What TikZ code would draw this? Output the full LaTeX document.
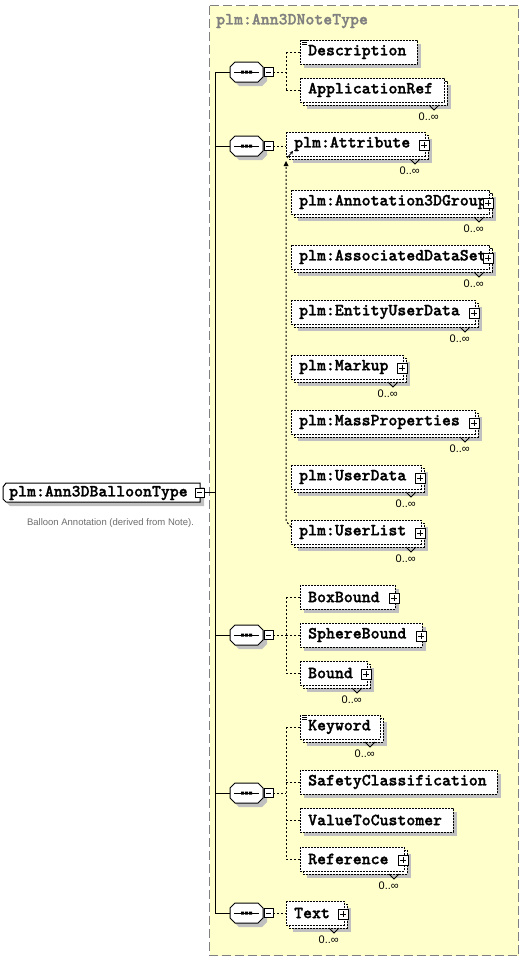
\documentclass[tikz,border=0pt]{standalone}
\usepackage{fontspec}
\setmainfont{Liberation Sans}
\newfontfamily\monof{lmmonolt10-bold.otf}[FakeBold=1.3]
\usetikzlibrary{arrows.meta}
\definecolor{bgyellow}{RGB}{255,255,204}
\definecolor{shadowgray}{RGB}{192,192,192}
\definecolor{bordergray}{RGB}{128,128,128}
\definecolor{descgray}{RGB}{110,110,110}
\tikzset{
  ebox/.style={draw=black, fill=white, line width=1pt, dash pattern=on 2pt off 1pt},
  conn/.style={draw=black, line width=1pt, dash pattern=on 2pt off 2pt},
  solidconn/.style={draw=black, line width=1pt},
  etext/.style={font=\monof\fontsize{17}{18}\selectfont, inner sep=0pt, anchor=west},
  occ/.style={font=\fontsize{11}{12}\selectfont, inner sep=0pt, anchor=east},
  thinline/.style={draw=black, line width=0.8pt}
}
\newcommand\PlusBox[2]{%
  \draw[thinline, fill=white] (#1-5,#2-5) rectangle (#1+5,#2+5);
  \draw[thinline] (#1-3,#2) -- (#1+3,#2) (#1,#2-3) -- (#1,#2+3);}
\newcommand\MinusBox[2]{%
  \draw[thinline, fill=white] (#1-4.5,#2-4.5) rectangle (#1+4.5,#2+4.5);
  \draw[thinline] (#1-2.5,#2) -- (#1+2.5,#2);}
% name, x0, cy, x1(front right), text, multi, plus, doc
\newcommand\Elem[8]{%
  \ifnum#6=1
    \fill[shadowgray] (#2+7,#3-5) rectangle (#4+7,#3+19);
    \draw[ebox] (#2+3,#3-9) rectangle (#4+3,#3+15);
    \draw[thinline] (#4-15,#3+15) -- (#4-10,#3+20) -- (#4-5,#3+15);
    \node[occ] (#1-occ) at (#4-5,#3+27) {0..∞};
  \else
    \fill[shadowgray] (#2+4,#3-8) rectangle (#4+4,#3+16);
  \fi
  \draw[ebox] (#2,#3-12) rectangle (#4,#3+12);
  \coordinate (#1) at (#2,#3);
  \node[etext] (#1-t) at (#2+8,#3) {#5};
  \ifnum#7=1 \PlusBox{#4-1}{#3+1}\fi
  \ifnum#8=1
    \draw[thinline] (#2+2,#3-12) -- (#2+7,#3-12) (#2+2,#3-10) -- (#2+7,#3-10) (#2+2,#3-8) -- (#2+7,#3-8);
  \fi
}
% sequence compositor: name, cy
\newcommand\Seq[2]{%
  \fill[shadowgray] (234,#2-1) -- (239,#2-6) -- (262,#2-6) -- (267,#2-1) -- (267,#2+9) -- (262,#2+14) -- (239,#2+14) -- (234,#2+9) -- cycle;
  \draw[solidconn, fill=white] (230,#2-5) -- (235,#2-10) -- (258,#2-10) -- (263,#2-5) -- (263,#2+5) -- (258,#2+10) -- (235,#2+10) -- (230,#2+5) -- cycle;
  \draw[solidconn] (234,#2) -- (259,#2);
  \fill (241,#2-1.5) rectangle (244,#2+1.5) (245,#2-1.5) rectangle (248,#2+1.5) (249,#2-1.5) rectangle (252,#2+1.5);
  \coordinate (#1) at (230,#2);
  \coordinate (#1-m) at (273,#2);
  \coordinate (#1-t) at (215,#2);
  \MinusBox{268.5}{#2}
}
\begin{document}
\begin{tikzpicture}[x=1pt,y=-1pt]
\useasboundingbox (0,0) rectangle (525,961);
\fill[white] (0,0) rectangle (525,961);
% type container
\draw[bordergray, fill=bgyellow, line width=1pt, dash pattern=on 9pt off 4pt] (209.5,5.5) rectangle (518.5,955.5);
\node[etext, text=bordergray] (typetitle) at (216,21) {plm:Ann3DNoteType};

% main element
\fill[shadowgray] (7,491) -- (10,487) -- (204,487) -- (204,506) -- (10,506) -- (7,503) -- cycle;
\draw[solidconn, fill=white] (3,487) -- (6,483) -- (200,483) -- (200,502) -- (6,502) -- (3,499) -- cycle;
\node[etext] (main) at (9,493) {plm:Ann3DBalloonType};
\coordinate (main-m) at (204,492.5);
\MinusBox{199.5}{492.5}
\node[font=\fontsize{9.5}{11}\selectfont, text=descgray, inner sep=0pt] (maindesc) at (110.5,523) {Balloon Annotation (derived from Note).};

% trunk
\coordinate (trunktop) at (215,72);
\coordinate (trunkbot) at (215,913);
\coordinate (trunkmain) at (215,492.5);
\draw[solidconn] (trunktop) -- (trunkbot);
\draw[solidconn] (main-m) -- (trunkmain);

% compositors
\Seq{s1}{72}
\Seq{s2}{146}
\Seq{s3}{635}
\Seq{s4}{793}
\Seq{s5}{913}
\foreach \s in {s1,s2,s3,s4,s5}{\draw[solidconn] (\s-t) -- (\s);}

% group 1
\coordinate (j1) at (286,72);
\coordinate (j1a) at (286,52);
\coordinate (j1b) at (286,90);
\Elem{desc}{300}{52}{417}{Description}{0}{0}{1}
\Elem{appref}{300}{90}{444}{ApplicationRef}{1}{0}{0}
\draw[conn] (s1-m) -- (j1);
\draw[conn] (j1a) -- (j1b);
\draw[conn] (j1a) -- (desc);
\draw[conn] (j1b) -- (appref);

% group 2 (substitution group)
\Elem{attr}{286}{144}{425}{plm:Attribute}{1}{1}{0}
\coordinate (attrin) at (286,146);
\draw[conn] (s2-m) -- (attrin);
\Elem{grp}{291}{202}{489}{plm:Annotation3DGroup}{1}{1}{0}
\Elem{ads}{291}{257}{489}{plm:AssociatedDataSet}{1}{1}{0}
\Elem{eud}{291}{312}{475}{plm:EntityUserData}{1}{1}{0}
\Elem{mkp}{291}{367}{403}{plm:Markup}{1}{1}{0}
\Elem{mass}{291}{422}{475}{plm:MassProperties}{1}{1}{0}
\Elem{ud}{291}{477}{421}{plm:UserData}{1}{1}{0}
\Elem{ul}{291}{532}{421}{plm:UserList}{1}{1}{0}
\coordinate (subbot) at (286,521);
\coordinate (subtop) at (286,161);
\coordinate (ulin) at (291,527);
\draw[conn] (ulin) -- (subbot) -- (subtop);
\fill (subtop) -- (283.5,166) -- (288.5,166) -- cycle;
\coordinate (diaga) at (287,158);
\coordinate (diagb) at (293,151);
\draw[thinline, -{Stealth[length=3.5pt,width=3.5pt]}] (diaga) -- (diagb);

% group 3
\coordinate (j3) at (286,635);
\coordinate (j3a) at (286,597);
\coordinate (j3b) at (286,673);
\Elem{boxb}{300}{597}{395}{BoxBound}{0}{1}{0}
\Elem{sphb}{300}{635}{422}{SphereBound}{0}{1}{0}
\Elem{bnd}{300}{673}{367}{Bound}{1}{1}{0}
\draw[conn] (s3-m) -- (j3);
\draw[conn] (j3a) -- (j3b);
\draw[conn] (j3a) -- (boxb);
\draw[conn] (j3) -- (sphb);
\draw[conn] (j3b) -- (bnd);

% group 4
\coordinate (j4) at (286,793);
\coordinate (j4a) at (286,727);
\coordinate (j4b) at (286,782);
\coordinate (j4c) at (286,820);
\coordinate (j4d) at (286,859);
\Elem{kw}{300}{727}{380}{Keyword}{1}{0}{1}
\Elem{safe}{300}{782}{497}{SafetyClassification}{0}{0}{0}
\Elem{vtc}{300}{820}{453}{ValueToCustomer}{0}{0}{0}
\Elem{ref}{300}{859}{404}{Reference}{1}{1}{0}
\draw[conn] (s4-m) -- (j4);
\draw[conn] (j4a) -- (j4d);
\draw[conn] (j4a) -- (kw);
\draw[conn] (j4b) -- (safe);
\draw[conn] (j4c) -- (vtc);
\draw[conn] (j4d) -- (ref);

% group 5
\Elem{txt}{286}{913}{344}{Text}{1}{1}{0}
\draw[conn] (s5-m) -- (txt);
\end{tikzpicture}
\end{document}
